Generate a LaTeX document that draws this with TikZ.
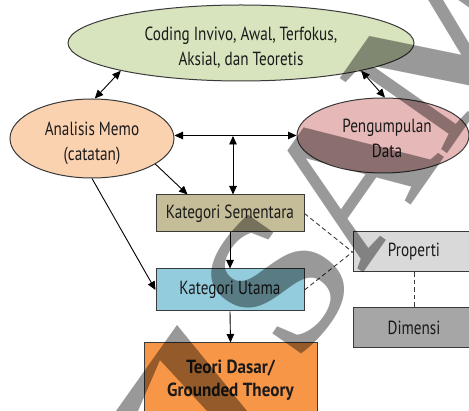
\documentclass[tikz,border=0pt]{standalone}
\usepackage{fontspec}
\setmainfont{PT Sans}[FakeStretch=0.8, BoldFeatures={FakeStretch=0.9}]
\newfontfamily\wmfont{Liberation Serif Bold}
\usetikzlibrary{shapes.geometric,arrows.meta}

\definecolor{txt}{HTML}{1A1A1A}
\definecolor{edge}{HTML}{3A3A3A}
\definecolor{codefill}{HTML}{D7E4BD}
\definecolor{memofill}{HTML}{FBD2B0}
\definecolor{datafill}{HTML}{E6B9B8}
\definecolor{semfill}{HTML}{C4BD97}
\definecolor{utafill}{HTML}{93CDDD}
\definecolor{teofill}{HTML}{F79646}
\definecolor{propfill}{HTML}{D9D9D9}
\definecolor{dimfill}{HTML}{A6A6A6}

\begin{document}
\begin{tikzpicture}[x=1pt,y=-1pt,
  every node/.style={text=txt, font=\fontsize{19}{25}\selectfont},
  oval/.style={ellipse, draw=edge, line width=1pt, align=center, inner sep=0pt},
  box/.style={rectangle, draw=edge, line width=1pt, align=center, inner sep=0pt},
  link/.style={line width=0.9pt, draw=black, >={Triangle[length=8.5pt,width=7.5pt]}},
  dlink/.style={line width=0.9pt, draw=edge, dash pattern=on 4.5pt off 3pt},
  wm/.style={font=\wmfont\fontsize{200}{200}\selectfont, text=black, text opacity=0.4, inner sep=0pt}]
\useasboundingbox (0,0) rectangle (469,411);
\fill[white] (0,0) rectangle (469,411);

% process nodes
\node[oval, fill=codefill, minimum width=346, minimum height=76] (code) at (241,43)
  {\rule{0pt}{22pt}Coding Invivo, Awal, Terfokus,\\Aksial, dan Teoretis};
\node[oval, fill=memofill, minimum width=164, minimum height=79] (memo) at (92,138.5)
  {\rule{0pt}{23pt}Analisis Memo\\(catatan)};
\node[oval, fill=datafill, minimum width=172, minimum height=75] (data) at (383,135.5)
  {\rule{0pt}{20pt}\hspace*{8pt}Pengumpulan\\\hspace*{8pt}Data};
\node[box, fill=semfill, minimum width=148, minimum height=37] (sem) at (230,213.5)
  {Kategori Sementara};
\node[box, fill=utafill, minimum width=148, minimum height=42] (uta) at (230,290)
  {Kategori Utama};
\node[box, fill=teofill, minimum width=173, minimum height=70, font=\bfseries\fontsize{19}{23}\selectfont] (teo) at (230.5,378)
  {\rule{0pt}{18pt}Teori Dasar/\\Grounded Theory};
\node[box, fill=propfill, minimum width=122, minimum height=40] (prop) at (414,252)
  {Properti};
\node[box, fill=dimfill, minimum width=122, minimum height=40] (dim) at (414,328)
  {Dimensi};

% connectors
\coordinate (hub) at (233,136);
\draw[link,<->] (code.193) -- (memo.86);
\draw[link,<->] (code.347) -- (data.87);
\draw[link,<->] (memo.east |- data.west) -- (data.west);
\draw[link,<->] (hub) -- (sem.north -| hub);
\draw[link,->] (memo.338) -- ([xshift=32pt]sem.north west);
\draw[link,->] (memo.south) -- (uta.west);
\draw[link,->] (sem.south) -- (uta.north);
\draw[link,->] (uta.south) -- (teo.north);
\draw[dlink] (sem.east) -- (prop.west);
\draw[dlink] (uta.east) -- (prop.west);
\draw[dlink] (prop.south) -- (dim.north);

% watermark
\fill[black, opacity=0.4] (116,411) -- (177,325) -- (247,411) -- (207,411) -- (160,360) -- (138,411) -- cycle;
\node[wm, rotate=55, anchor=base west] at (299,366) {SAMPLE};
\end{tikzpicture}
\end{document}
